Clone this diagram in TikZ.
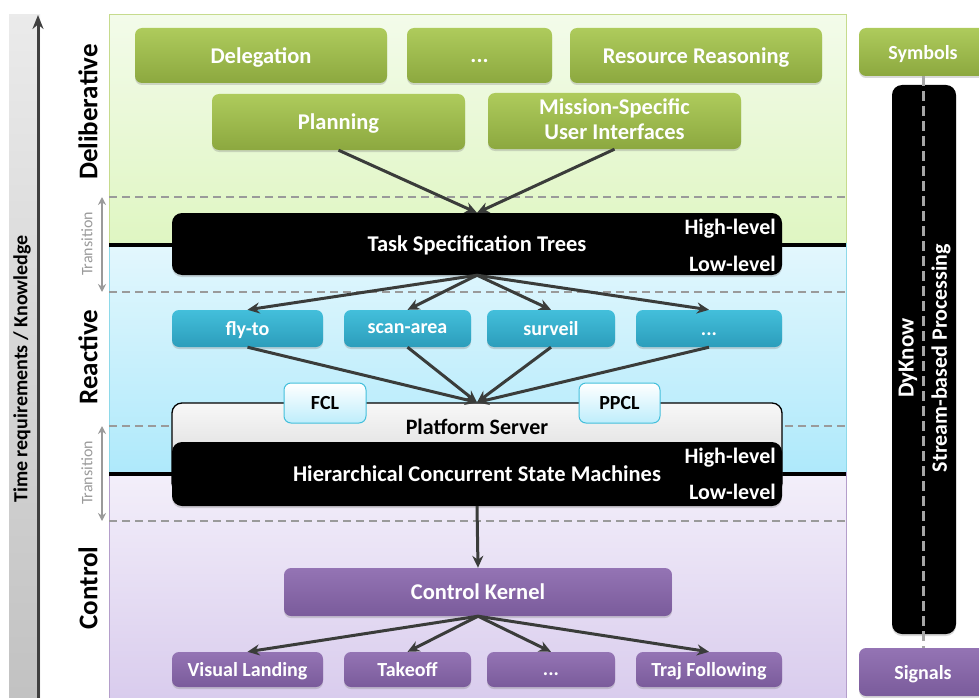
\documentclass[tikz,border=0pt]{standalone}
\usepackage{fontspec}
\setmainfont{Carlito}
\usetikzlibrary{arrows.meta,shadows}
\definecolor{gtop}{HTML}{AECB5C}
\definecolor{gbot}{HTML}{8CA83F}
\definecolor{ctop}{HTML}{43BFDB}
\definecolor{cbot}{HTML}{2C9DBB}
\definecolor{ptop}{HTML}{9474B4}
\definecolor{pbot}{HTML}{7A5B9B}
\definecolor{arrc}{HTML}{3A3C3A}
\definecolor{dashc}{HTML}{9A9A9A}
\definecolor{pgt}{HTML}{F3FBEA}
\definecolor{pgb}{HTML}{DFF6C2}
\definecolor{pbt}{HTML}{E3F7FD}
\definecolor{pbb}{HTML}{AEE9FB}
\definecolor{ppt}{HTML}{F3EFFA}
\definecolor{ppb}{HTML}{D9CCED}
\tikzset{
  bx/.style={rounded corners=7pt, inner sep=0pt, text=white, align=center, text depth=0pt,
    font=\bfseries\fontsize{22.5}{26}\selectfont,
    drop shadow={shadow xshift=0pt, shadow yshift=-2pt, opacity=0.3}},
  gbox/.style={bx, top color=gtop, bottom color=gbot},
  cbox/.style={bx, top color=ctop, bottom color=cbot, font=\bfseries\fontsize{20}{23}\selectfont},
  pbox/.style={bx, top color=ptop, bottom color=pbot},
  psm/.style={pbox, font=\bfseries\fontsize{20}{23}\selectfont},
  blk/.style={bx, fill=black, rounded corners=10pt},
  lvl/.style={text=white, font=\bfseries\fontsize{22}{25}\selectfont, inner sep=0pt},
  lay/.style={rotate=90, font=\bfseries\fontsize{27}{30}\selectfont, inner sep=0pt},
  trl/.style={rotate=90, text=dashc, font=\fontsize{16}{18}\selectfont, inner sep=0pt},
  arr/.style={draw=arrc, line width=3pt, -{Stealth[length=12pt,width=11pt]}},
  tarr/.style={draw=dashc, line width=2pt, {Stealth[length=8pt,width=8pt]}-{Stealth[length=8pt,width=8pt]}},
  dsh/.style={draw=dashc, line width=1.5pt, dash pattern=on 8pt off 5pt},
  lbox/.style={rounded corners=7pt, inner sep=0pt, top color=white, bottom color=pbb!80, draw=ctop, line width=1pt,
    text depth=0pt, font=\bfseries\fontsize{20}{23}\selectfont}
}
\begin{document}
\begin{tikzpicture}[x=1pt,y=-1pt]
\useasboundingbox (0,0) rectangle (979,698);
\begin{scope}
\clip (0,0) rectangle (979,698);
% left strip
\shade[top color=black!8, bottom color=black!24] (9,15) rectangle (40,698);
\coordinate (ax0) at (38,698);
\coordinate (ax1) at (38,15);
\draw[draw=black!75, line width=3pt, -{Stealth[length=14pt,width=11pt]}] (ax0) -- (ax1);
\node[rotate=90, font=\bfseries\fontsize{20}{22}\selectfont, inner sep=0pt] (axl) at (22,369) {Time requirements / Knowledge};
% panels
\shade[top color=pgt, bottom color=pgb] (109,15) rectangle (846,244);
\shade[top color=pbt, bottom color=pbb] (109,244) rectangle (846,474);
\shade[top color=ppt, bottom color=ppb] (109,474) rectangle (846,698);
\draw[draw=gtop!70, line width=1pt] (109,243) -- (109,15) -- (846,15) -- (846,243);
\draw[draw=ctop!60, line width=1pt] (109,243) -- (109,472) (846,243) -- (846,472);
\draw[draw=ptop!70, line width=1pt] (109,472) -- (109,698) (846,472) -- (846,698);
\draw[black, line width=4pt] (109,245) -- (846,245);
\draw[black, line width=4pt] (109,474) -- (846,474);
% dashed lines
\draw[dsh] (109,197) -- (846,197);
\draw[dsh] (109,292) -- (846,292);
\draw[dsh] (109,426) -- (846,426);
\draw[dsh] (109,521) -- (846,521);
% layer labels
\node[lay] (ldel) at (88,112) {Deliberative};
\node[lay] (lrea) at (88,357) {Reactive};
\node[lay] (lcon) at (88,588) {Control};
% transitions
\coordinate (t1a) at (102,197); \coordinate (t1b) at (102,292);
\coordinate (t2a) at (102,426); \coordinate (t2b) at (102,521);
\draw[tarr] (t1a) -- (t1b);
\draw[tarr] (t2a) -- (t2b);
\node[trl] (tr1) at (87,244) {Transition};
\node[trl] (tr2) at (87,473) {Transition};
% deliberative boxes
\node[gbox, minimum width=252pt, minimum height=55pt] (del) at (261,55.5) {Delegation};
\node[gbox, minimum width=145pt, minimum height=55pt] (dd) at (479.5,55.5) {\vphantom{D}...};
\node[gbox, minimum width=252pt, minimum height=55pt] (res) at (696,55.5) {Resource Reasoning};
\node[gbox, minimum width=253pt, minimum height=56pt] (pla) at (338.5,122) {Planning};
\node[gbox, minimum width=253pt, minimum height=56pt, text depth=4pt, font=\bfseries\fontsize{22.5}{25}\selectfont] (mis) at (614.5,121) {Mission-Specific\\User Interfaces};
% TST
\node[blk, minimum width=610pt, minimum height=62pt] (tst) at (477,244) {Task Specification Trees};
\node[lvl, anchor=east] (tsth) at (776,229) {High-level};
\node[lvl, anchor=east] (tstl) at (776,264) {Low-level};
% reactive boxes
\node[cbox, minimum width=151pt, minimum height=37pt] (fly) at (247.5,328.5) {fly-to};
\node[cbox, minimum width=127pt, minimum height=37pt] (scan) at (407.5,328.5) {scan-area};
\node[cbox, minimum width=128pt, minimum height=37pt] (surv) at (551,328.5) {surveil};
\node[cbox, minimum width=146pt, minimum height=37pt] (rd) at (709,328.5) {\vphantom{f}...};
% platform server
\node[rounded corners=10pt, draw=black, line width=1.3pt, top color=black!3, bottom color=black!18,
  minimum width=610pt, minimum height=90pt, inner sep=0pt,
  drop shadow={shadow xshift=0pt, shadow yshift=-2pt, opacity=0.3}] (ps) at (477,448) {};
\node[font=\bfseries\fontsize{22}{25}\selectfont, inner sep=0pt, text depth=0pt] (pst) at (477,427) {Platform Server};
\node[lbox, minimum width=82pt, minimum height=40pt] (fcl) at (325,403) {FCL};
\node[lbox, minimum width=81pt, minimum height=40pt] (ppcl) at (619.5,403) {PPCL};
% HCSM
\node[blk, minimum width=610pt, minimum height=64pt] (hc) at (477,474) {Hierarchical Concurrent State Machines};
\node[lvl, anchor=east] (hch) at (776,458) {High-level};
\node[lvl, anchor=east] (hcl) at (776,492) {Low-level};
% control
\node[pbox, minimum width=388pt, minimum height=48pt] (ck) at (478,592) {Control Kernel};
\node[psm, minimum width=151pt, minimum height=35pt] (vl) at (247.5,669.5) {Visual Landing};
\node[psm, minimum width=127pt, minimum height=35pt] (to) at (407.5,669.5) {Takeoff};
\node[psm, minimum width=128pt, minimum height=35pt] (cd) at (551,669.5) {\vphantom{T}...};
\node[psm, minimum width=146pt, minimum height=35pt] (tf) at (709,669.5) {Traj Following};
% arrows
\draw[arr] (pla.south) -- (tst.north);
\draw[arr] (mis.south) -- (tst.north);
\foreach \b in {fly,scan,surv,rd} {
  \draw[arr] (tst.south) -- (\b.north);
  \draw[arr] (\b.south) -- (ps.north);
}
\draw[arr] (hc.south) -- (ck.north);
\foreach \b in {vl,to,cd,tf} {
  \draw[arr] (ck.south) -- (\b.north);
}
% right column
\node[gbox, minimum width=128pt, minimum height=48pt, font=\bfseries\fontsize{20}{23}\selectfont] (sym) at (923,52) {Symbols};
\node[pbox, minimum width=128pt, minimum height=48pt, font=\bfseries\fontsize{20}{23}\selectfont] (sig) at (923,672) {Signals};
\node[blk, minimum width=64pt, minimum height=549pt] (dk) at (924,359.5) {};
\draw[draw=black!35, line width=3pt, dash pattern=on 10pt off 5pt] (sym.south) -- (sig.north);
\node[rotate=90, lvl, font=\bfseries\fontsize{23}{25}\selectfont] (dkn) at (908,358) {DyKnow};
\node[rotate=90, lvl, font=\bfseries\fontsize{22}{25}\selectfont] (sbp) at (941,358) {Stream-based Processing};
\end{scope}
\end{tikzpicture}
\end{document}
